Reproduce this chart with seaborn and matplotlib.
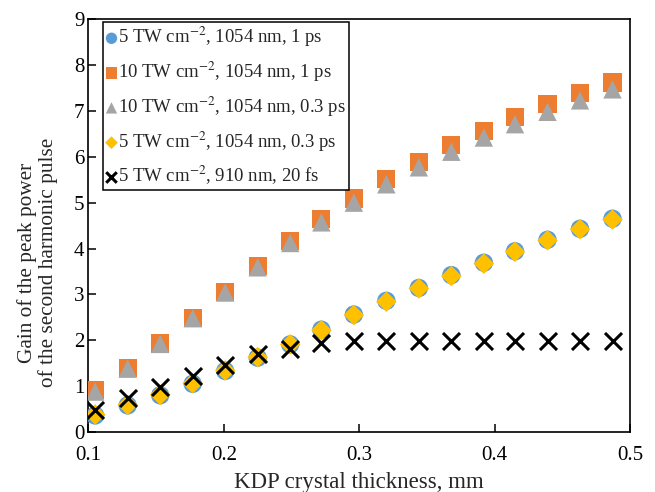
import numpy as np
import pandas as pd
import matplotlib
matplotlib.use("Agg")
import matplotlib.pyplot as plt
import seaborn as sns

# KDP crystal thickness, mm
thickness = [0.105, 0.129, 0.153, 0.177, 0.201, 0.225, 0.249, 0.272, 0.296,
             0.320, 0.344, 0.368, 0.392, 0.415, 0.439, 0.463, 0.487]

# gain of the peak power of the second harmonic pulse
gain_5tw_1054_1ps = [0.36, 0.58, 0.80, 1.05, 1.33, 1.62, 1.91, 2.23, 2.56,
                     2.86, 3.14, 3.42, 3.69, 3.94, 4.19, 4.43, 4.65]
gain_10tw_1054_1ps = [0.91, 1.39, 1.93, 2.49, 3.06, 3.62, 4.16, 4.64, 5.09,
                      5.51, 5.89, 6.25, 6.56, 6.87, 7.15, 7.40, 7.62]
gain_10tw_1054_03ps = [0.88, 1.38, 1.92, 2.48, 3.04, 3.59, 4.12, 4.57, 5.00,
                       5.40, 5.77, 6.11, 6.42, 6.71, 6.98, 7.23, 7.47]
gain_5tw_1054_03ps = [0.38, 0.59, 0.81, 1.06, 1.34, 1.63, 1.91, 2.22, 2.55,
                      2.84, 3.13, 3.40, 3.67, 3.93, 4.18, 4.42, 4.63]
gain_5tw_910_20fs = [0.49, 0.73, 0.99, 1.22, 1.46, 1.70, 1.80, 1.93, 1.98,
                     1.99, 1.99, 1.99, 1.99, 1.99, 1.99, 1.99, 1.99]

labels = [r"5 TW cm$^{-2}$, 1054 nm, 1 ps",
          r"10 TW cm$^{-2}$, 1054 nm, 1 ps",
          r"10 TW cm$^{-2}$, 1054 nm, 0.3 ps",
          r"5 TW cm$^{-2}$, 1054 nm, 0.3 ps",
          r"5 TW cm$^{-2}$, 910 nm, 20 fs"]
series = [gain_5tw_1054_1ps, gain_10tw_1054_1ps, gain_10tw_1054_03ps,
          gain_5tw_1054_03ps, gain_5tw_910_20fs]

colors = ["#5B9BD5", "#ED7D31", "#A5A5A5", "#FFC000", "black"]
markers = ["o", "s", "^", "D", "x"]
sizes = [175, 170, 175, 110, 150]

sns.set_style("ticks")
plt.rcParams["font.family"] = ["Liberation Serif", "DejaVu Serif"]
plt.rcParams["mathtext.fontset"] = "stix"

fig = plt.figure(figsize=(6.55, 4.92), dpi=100)
ax = fig.add_axes([0.135, 0.122, 0.827, 0.839])

for vals, lab, c, m, s in zip(series, labels, colors, markers, sizes):
    df = pd.DataFrame({"x": thickness, "y": vals})
    if m == "x":
        sns.scatterplot(data=df, x="x", y="y", marker=m, color=c, s=s,
                        linewidth=2.2, label=lab, ax=ax, zorder=5)
    else:
        sns.scatterplot(data=df, x="x", y="y", marker=m, color=c, s=s,
                        edgecolor="none", label=lab, ax=ax, zorder=3)

ax.set_xlim(0.1, 0.5)
ax.set_ylim(0, 9)
ax.set_xticks([0.1, 0.2, 0.3, 0.4, 0.5])
ax.set_xticklabels(["0.1", "0.2", "0.3", "0.4", "0.5"])
ax.set_yticks(range(0, 10))
ax.tick_params(direction="in", length=6, width=1.1, labelsize=15,
               colors="black")
ax.tick_params(axis="x", pad=10)
ax.tick_params(axis="y", pad=3)
for sp in ax.spines.values():
    sp.set_linewidth(1.2)
    sp.set_color("black")

ax.set_xlabel("KDP crystal thickness, mm", fontsize=16.5, labelpad=5)
ax.set_ylabel("Gain of the peak power\nof the second harmonic pulse",
              fontsize=15.3, linespacing=1.05)
ax.yaxis.set_label_coords(-0.056, 0.41)

leg = ax.legend(loc="upper left", bbox_to_anchor=(0.027, 0.993), fontsize=13.5,
                frameon=True, fancybox=False, framealpha=1, edgecolor="black",
                markerscale=0.62, handlelength=0.6, handletextpad=0.05,
                borderpad=0.15, labelspacing=0.56, borderaxespad=0)
leg.get_frame().set_linewidth(1.1)

fig.savefig("out.png", dpi=100)
